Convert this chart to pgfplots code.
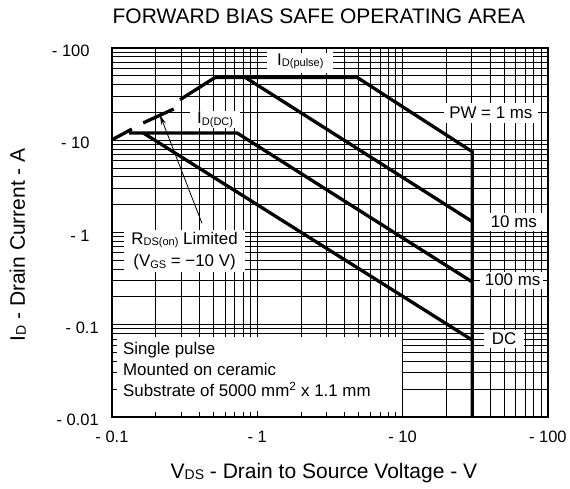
\documentclass[border=0pt]{standalone}
\usepackage{fontspec}
\setmainfont{Liberation Sans}
\usepackage{pgfplots}
\pgfplotsset{compat=1.18}
\usetikzlibrary{arrows.meta}
\pgfdeclarelayer{boxlayer}
\pgfplotsset{layers/boxed/.define layer set={axis background,axis grid,boxlayer,axis ticks,axis lines,axis tick labels,pre main,main,axis descriptions,axis foreground}{
    grid style={/pgfplots/on layer=axis grid},
    tick style={/pgfplots/on layer=axis ticks},
    axis line style={/pgfplots/on layer=axis lines},
    label style={/pgfplots/on layer=axis descriptions},
    title style={/pgfplots/on layer=axis descriptions},
    ticklabel style={/pgfplots/on layer=axis tick labels},
}}
\newcommand{\sub}[1]{\raisebox{-1.5pt}{\fontsize{11}{11}\selectfont #1}}
\newcommand{\bigsub}[1]{\raisebox{-1pt}{\fontsize{14}{14}\selectfont #1}}
\newcommand{\lf}{\fontsize{16.9}{22.4}\selectfont}
\begin{document}
\begin{tikzpicture}
\begin{axis}[
  at={(0pt,0pt)}, anchor=south west,
  width=436pt, height=369pt, scale only axis,
  set layers=boxed,
  xmode=log, ymode=log,
  xmin=0.1, xmax=100, ymin=0.01, ymax=100,
  xtick={0.1,1,10,100},
  xticklabels={- 0.1,- 1,- 10,- 100},
  ytick={0.01,0.1,1,10,100},
  yticklabels={- 0.01,- 0.1,- 1\hphantom{0},- 10\hphantom{0},- 100\hphantom{0}},
  minor xtick={0.2,0.3,0.4,0.5,0.6,0.7,0.8,0.9,2,3,4,5,6,7,8,9,20,30,40,50,60,70,80,90},
  minor ytick={0.02,0.03,0.04,0.05,0.06,0.07,0.08,0.09,0.2,0.3,0.4,0.5,0.6,0.7,0.8,0.9,2,3,4,5,6,7,8,9,20,30,40,50,60,70,80,90},
  grid=both,
  major grid style={black, line width=0.85pt},
  minor grid style={black, line width=0.85pt},
  tick style={black, line width=0.85pt},
  major tick length=6pt, minor tick length=5pt,
  tick align=inside,
  axis line style={black, line width=1.3pt},
  tick label style={font=\fontsize{16.5}{18}\selectfont},
  xticklabel style={yshift=-10.5pt},
  yticklabel style={xshift=-9.7pt, yshift=-3pt},
]
% PW = 1 ms
\addplot[black, line width=3.3pt] coordinates {(0.513,48) (4.87,48) (30.2,7.5) (30.2,0.01)};
% 10 ms
\addplot[black, line width=3.3pt] coordinates {(0.826,48) (30.2,1.31)};
% 100 ms with ID(DC)
\addplot[black, line width=3.3pt] coordinates {(0.131,12) (0.725,12) (30.2,0.29)};
% DC
\addplot[black, line width=3.3pt] coordinates {(0.164,12) (30.2,0.068)};
% RDS(on) limit: solid start, dashed extension
\addplot[black, line width=3.3pt] coordinates {(0.1,10.1) (0.137,13.2)};
\addplot[black, line width=3.3pt] coordinates {(0.164,15.4) (0.266,21.8)};
\addplot[black, line width=3.3pt] coordinates {(0.294,27.5) (0.513,48)};
% arrow
\draw[black, line width=0.8pt, -{Stealth[length=10pt,width=5pt]}] (axis cs:0.416,1.26) -- (axis cs:0.214,18.8);

\pgfplotsextra{%
\begin{pgfonlayer}{boxlayer}
\node[fill=white, inner sep=0pt, minimum width=66pt, minimum height=24pt, font=\lf] at (axis cs:1.98,71.4) {I\sub{D(pulse)}};
\node[fill=white, inner sep=0pt, minimum width=50pt, minimum height=17pt, font=\lf] at (axis cs:0.513,16.6) {I\sub{D(DC)}};
\node[fill=white, inner sep=0pt, minimum width=94pt, minimum height=20pt, font=\lf] at (axis cs:40.5,19.7) {PW = 1 ms};
\node[fill=white, inner sep=0pt, minimum width=63pt, minimum height=18pt, font=\lf] at (axis cs:58.3,1.3) {10 ms};
\node[fill=white, inner sep=0pt, minimum width=65pt, minimum height=17pt, font=\lf] at (axis cs:57.2,0.305) {100 ms};
\node[fill=white, inner sep=0pt, minimum width=40pt, minimum height=18pt, font=\lf] at (axis cs:50,0.07) {DC};
\node[fill=white, inner sep=0pt, minimum width=121pt, minimum height=42pt, align=center, font=\lf] at (axis cs:0.316,0.63) {R\sub{DS(on)} Limited\\(V\sub{GS} = −10 V)};
\fill[white] (axis cs:0.1,0.01) rectangle (axis cs:9.85,0.074);
\node[anchor=base west, inner sep=0pt, font=\lf] at (axis cs:0.119,0.047) {Single pulse};
\node[anchor=base west, inner sep=0pt, font=\lf] at (axis cs:0.119,0.028) {Mounted on ceramic};
\node[anchor=base west, inner sep=0pt, font=\lf] at (axis cs:0.119,0.0166) {Substrate of 5000 mm\textsuperscript{2} x 1.1 mm};
\end{pgfonlayer}%
}
\end{axis}
\path (-112pt,-72pt) rectangle (458pt,417pt);
\node[anchor=base, font=\fontsize{21}{24}\selectfont] at (207pt,393pt) {FORWARD BIAS SAFE OPERATING AREA};
\node[anchor=base, font=\fontsize{21}{24}\selectfont] at (212pt,-62pt) {V\bigsub{DS} - Drain to Source Voltage - V};
\node[anchor=base, rotate=90, font=\fontsize{21}{24}\selectfont] at (-87pt,172pt) {I\bigsub{D} - Drain Current - A};
\end{tikzpicture}
\end{document}
